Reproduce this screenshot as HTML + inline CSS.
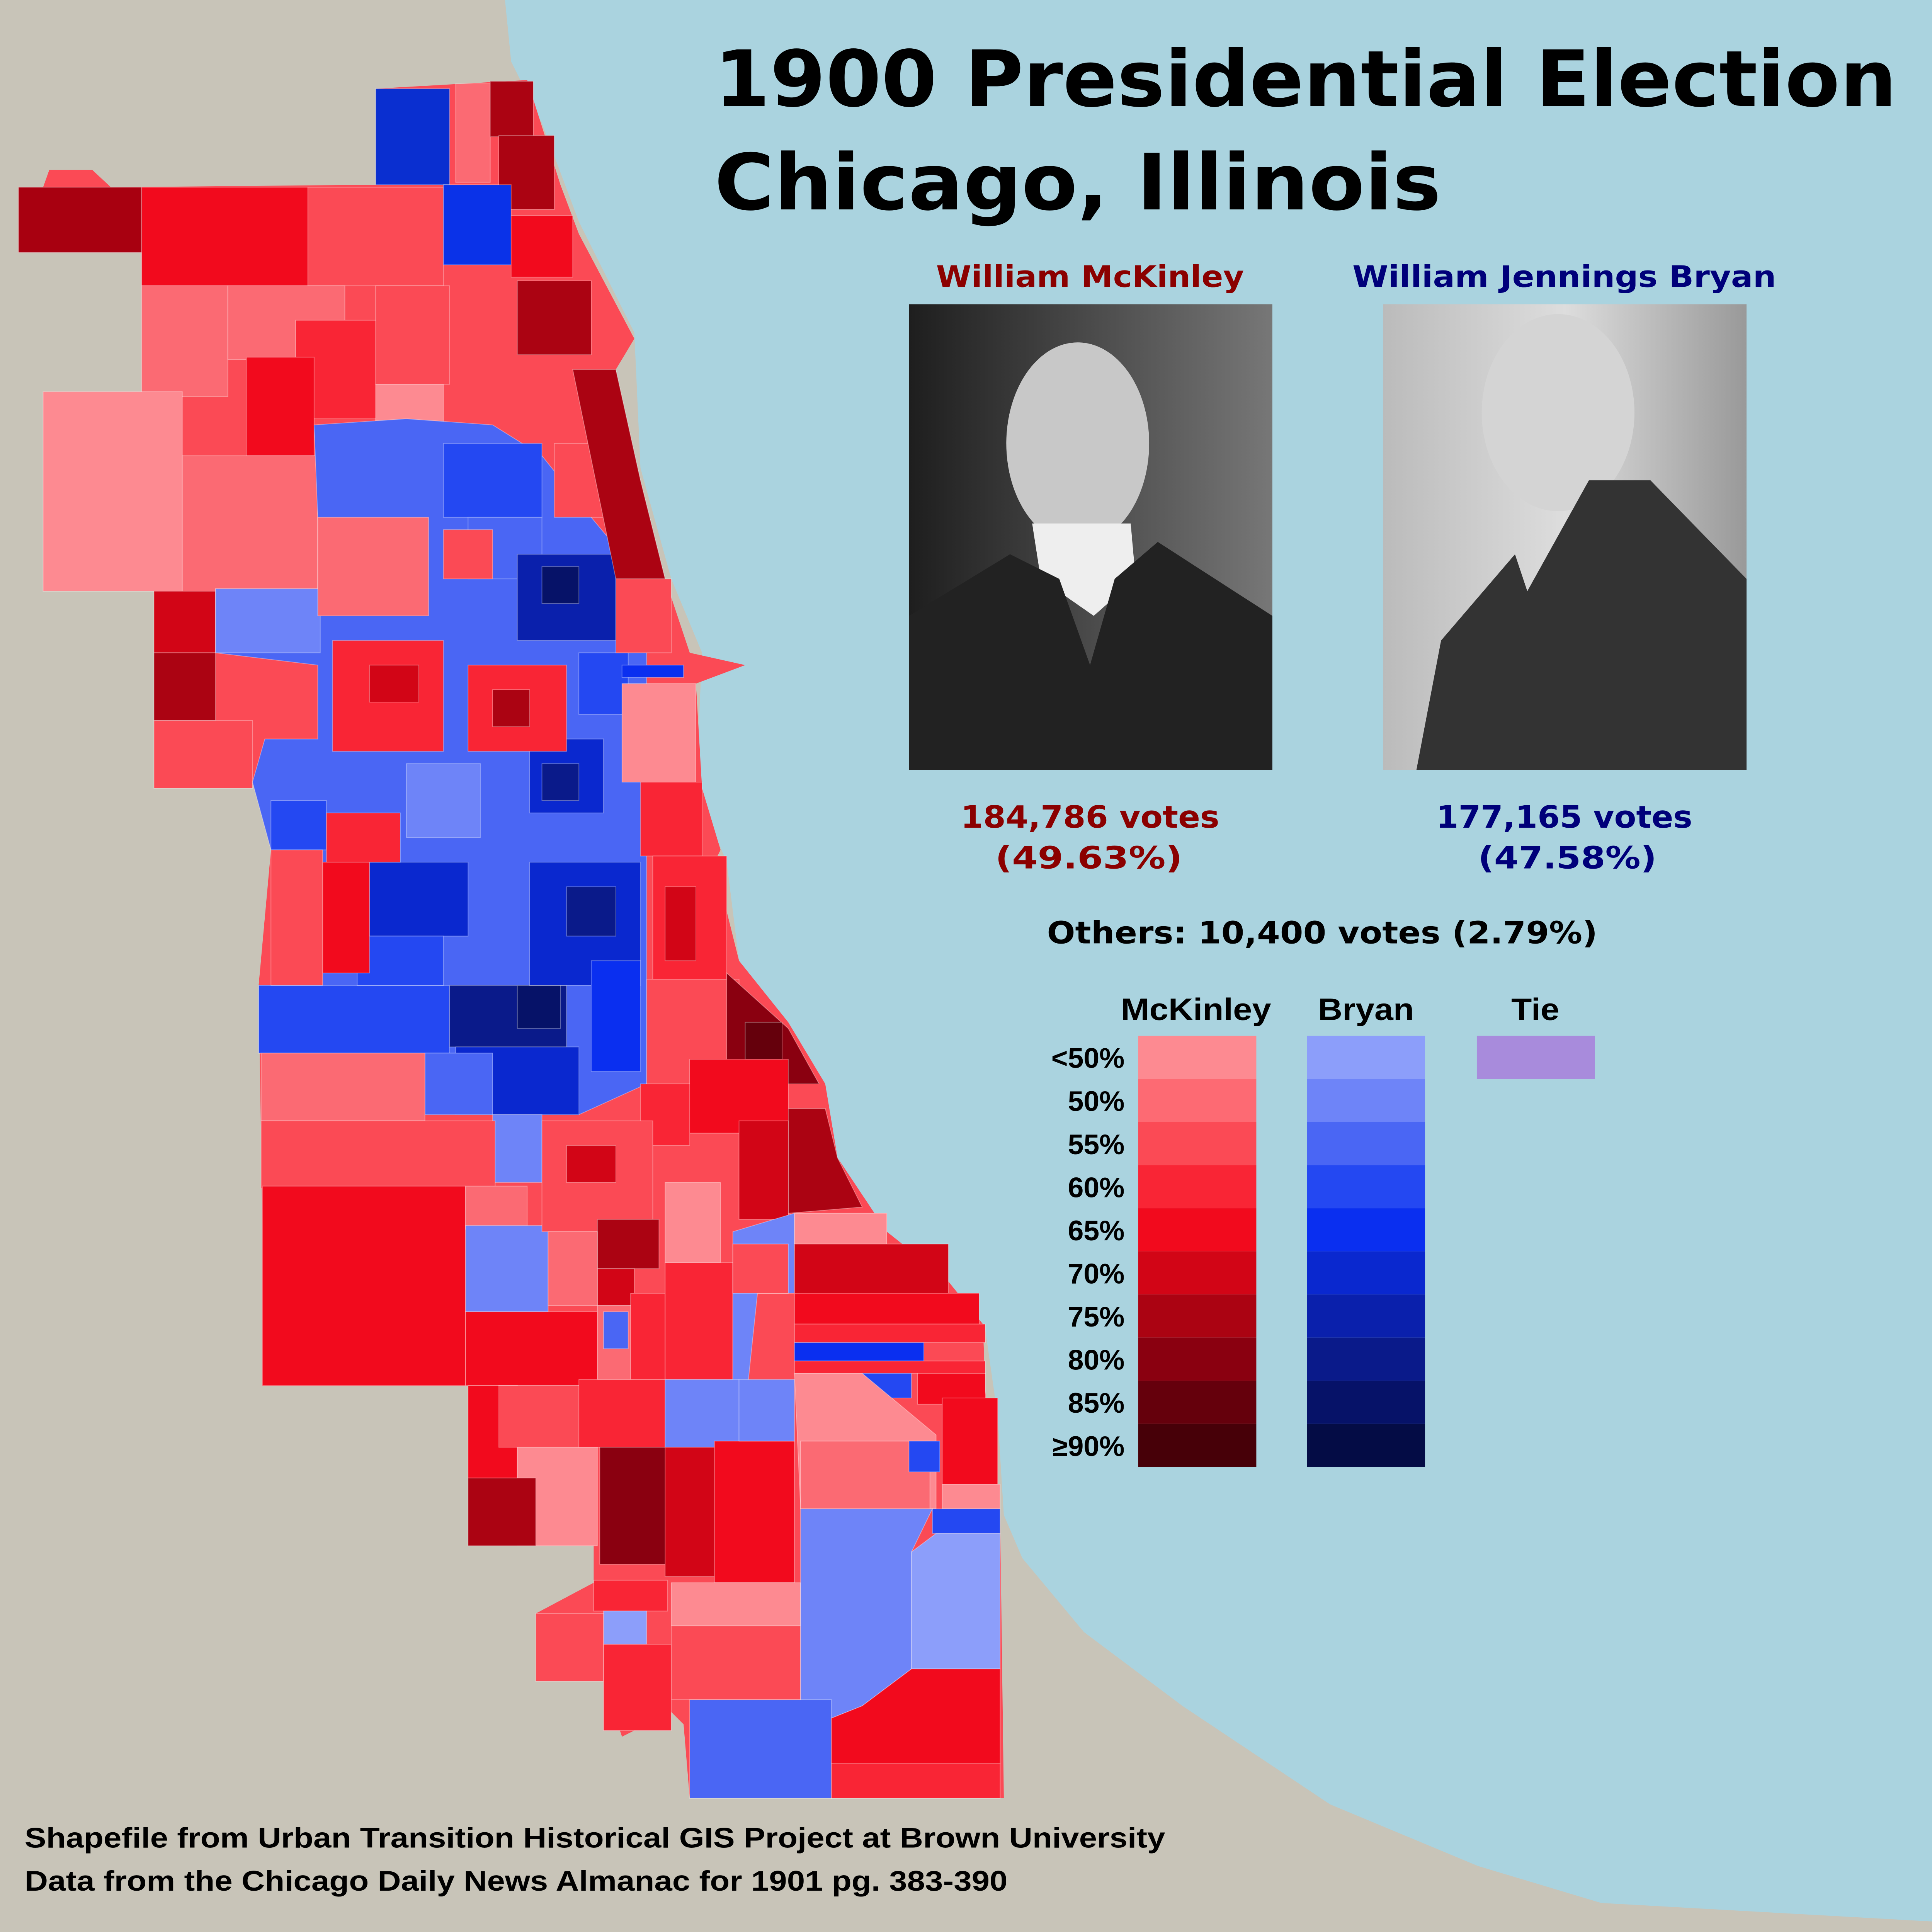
<!DOCTYPE html>
<html><head><meta charset="utf-8"><style>html,body{margin:0;padding:0;background:#c8c4b8;overflow:hidden}svg{display:block}</style></head>
<body>
<svg xmlns="http://www.w3.org/2000/svg" width="5265" height="5250" viewBox="0 0 1651 1647" preserveAspectRatio="xMinYMin meet">
<defs>
<linearGradient id="g1" x1="0" y1="0" x2="1" y2="0"><stop offset="0" stop-color="#1e1e1e"/><stop offset="1" stop-color="#777"/></linearGradient>
<linearGradient id="g2" x1="0" y1="0" x2="1" y2="0"><stop offset="0" stop-color="#bbb"/><stop offset="0.5" stop-color="#ddd"/><stop offset="1" stop-color="#999"/></linearGradient>
</defs>
<rect width="1651" height="1647" fill="#c8c4b8"/>
<path d="M410,0 L1651,0 L1651,1647 L1568,1560 L1300,1545 L1200,1515 L1080,1465 L960,1385 L880,1325 L830,1265 L815,1230 L810,1150 L800,1080 L770,1040 L720,1000 L680,940 L640,840 L600,780 L590,700 L565,640 L570,530 L545,470 L520,380 L515,270 L470,180 L440,100 L415,50 Z" fill="#aad3df"/>
<path d="M1568,1560 L1651,1560 L1651,1647 L0,1647 L0,1564 L1568,1564 Z" fill="#c8c4b8"/>
<path d="M305,72 L428,65 L455,150 L470,190 L515,275 L500,300 L520,390 L540,470 L560,530 L605,540 L565,555 L570,640 L585,690 L580,700 L600,780 L640,830 L670,880 L680,940 L720,1000 L768,1038 L798,1075 L800,1130 L812,1230 L815,1460 L560,1460 L555,1400 L545,1390 L505,1410 L490,1365 L435,1365 L435,1310 L482,1285 L482,1255 L380,1255 L380,1125 L215,1125 L210,800 L220,690 L205,635 L205,612 L125,640 L125,480 L35,480 L35,318 L115,318 L115,205 L15,205 L15,152 L35,152 L40,138 L75,138 L90,152 L305,150 Z" fill="#fb4a55"/>
<g stroke="#ffffff" stroke-opacity="0.35" stroke-width="0.6">
<rect x="15" y="152" width="100" height="53" fill="#a80010"/>
<rect x="115" y="152" width="135" height="80" fill="#f20a1d"/>
<rect x="250" y="152" width="110" height="80" fill="#fb4a55"/>
<rect x="305" y="72" width="60" height="78" fill="#0a2fd0"/>
<rect x="370" y="68" width="28" height="80" fill="#fb6a73"/>
<rect x="398" y="66" width="35" height="45" fill="#ab0312"/>
<rect x="405" y="110" width="45" height="60" fill="#ab0312"/>
<rect x="360" y="150" width="55" height="65" fill="#0a32e8"/>
<rect x="415" y="175" width="50" height="50" fill="#f20a1d"/>
<rect x="420" y="228" width="60" height="60" fill="#ab0312"/>
<rect x="115" y="232" width="70" height="90" fill="#fb6a73"/>
<rect x="185" y="232" width="95" height="60" fill="#fb6a73"/>
<rect x="240" y="260" width="70" height="80" fill="#f92535"/>
<rect x="200" y="290" width="55" height="80" fill="#f20a1d"/>
<rect x="305" y="232" width="60" height="80" fill="#fb4a55"/>
<rect x="35" y="318" width="113" height="162" fill="#fd8a91"/>
<rect x="148" y="370" width="110" height="110" fill="#fb6a73"/>
<rect x="305" y="312" width="55" height="40" fill="#fd8a91"/>
<rect x="125" y="480" width="50" height="50" fill="#d20516"/>
<rect x="125" y="530" width="50" height="55" fill="#ab0312"/>
<rect x="125" y="585" width="80" height="55" fill="#fb4a55"/>
<path d="M255,345 L330,340 L400,345 L440,370 L480,420 L505,450 L525,510 L525,880 L470,905 L400,905 L360,875 L345,855 L210,855 L210,800 L260,800 L262,700 L220,690 L205,635 L215,600 L258,600 L258,540 L175,530 L175,478 L258,478 L258,420 Z" fill="#4a66f4"/>
<rect x="175" y="478" width="85" height="52" fill="#6e84f8"/>
<rect x="210" y="800" width="155" height="55" fill="#2448f2"/>
<rect x="365" y="800" width="95" height="50" fill="#0a1a8a"/>
<rect x="420" y="800" width="35" height="35" fill="#061268"/>
<rect x="370" y="850" width="100" height="55" fill="#0a28cf"/>
<rect x="345" y="855" width="55" height="50" fill="#4a66f4"/>
<rect x="400" y="905" width="40" height="55" fill="#6e84f8"/>
<rect x="360" y="360" width="80" height="60" fill="#2448f2"/>
<rect x="380" y="420" width="60" height="50" fill="#4a66f4"/>
<rect x="420" y="450" width="80" height="70" fill="#0a20ac"/>
<rect x="440" y="460" width="30" height="30" fill="#061268"/>
<rect x="470" y="530" width="40" height="50" fill="#2448f2"/>
<rect x="430" y="600" width="60" height="60" fill="#0a28cf"/>
<rect x="440" y="620" width="30" height="30" fill="#0a1a8a"/>
<rect x="430" y="700" width="90" height="100" fill="#0a28cf"/>
<rect x="460" y="720" width="40" height="40" fill="#0a1a8a"/>
<rect x="480" y="780" width="40" height="90" fill="#0a2ff0"/>
<rect x="300" y="700" width="80" height="60" fill="#0a28cf"/>
<rect x="290" y="760" width="70" height="40" fill="#2448f2"/>
<rect x="330" y="620" width="60" height="60" fill="#6e84f8"/>
<rect x="220" y="650" width="45" height="40" fill="#2448f2"/>
<rect x="505" y="540" width="50" height="10" fill="#0a2ff0"/>
<rect x="258" y="420" width="90" height="80" fill="#fb6a73"/>
<rect x="270" y="520" width="90" height="90" fill="#f92535"/>
<rect x="300" y="540" width="40" height="30" fill="#d20516"/>
<rect x="380" y="540" width="80" height="70" fill="#f92535"/>
<rect x="400" y="560" width="30" height="30" fill="#ab0312"/>
<rect x="265" y="660" width="60" height="40" fill="#f92535"/>
<rect x="262" y="700" width="38" height="90" fill="#f20a1d"/>
<rect x="220" y="690" width="42" height="110" fill="#fb4a55"/>
<rect x="360" y="430" width="40" height="40" fill="#fb4a55"/>
<rect x="450" y="360" width="50" height="60" fill="#fb4a55"/>
<path d="M465,300 L500,300 L520,390 L540,470 L500,470 Z" fill="#ab0312"/>
<rect x="500" y="470" width="45" height="60" fill="#fb4a55"/>
<rect x="505" y="555" width="60" height="80" fill="#fd8a91"/>
<rect x="520" y="635" width="50" height="60" fill="#f92535"/>
<rect x="530" y="695" width="60" height="100" fill="#f92535"/>
<rect x="540" y="720" width="25" height="60" fill="#d20516"/>
<rect x="525" y="795" width="75" height="90" fill="#fb4a55"/>
<path d="M590,790 L640,835 L665,880 L590,880 Z" fill="#8a0010"/>
<rect x="605" y="830" width="30" height="30" fill="#65000c"/>
<rect x="560" y="860" width="80" height="60" fill="#f20a1d"/>
<path d="M640,900 L670,900 L680,940 L700,980 L640,985 Z" fill="#ab0312"/>
<rect x="600" y="910" width="40" height="80" fill="#d20516"/>
<rect x="520" y="880" width="40" height="50" fill="#f92535"/>
<rect x="212" y="855" width="133" height="55" fill="#fb6a73"/>
<rect x="212" y="910" width="190" height="55" fill="#fb4a55"/>
<rect x="213" y="963" width="165" height="162" fill="#f20a1d"/>
<rect x="378" y="963" width="50" height="35" fill="#fb6a73"/>
<rect x="378" y="995" width="67" height="70" fill="#6e84f8"/>
<rect x="378" y="1065" width="107" height="60" fill="#f20a1d"/>
<rect x="440" y="910" width="90" height="90" fill="#fb4a55"/>
<rect x="460" y="930" width="40" height="30" fill="#d20516"/>
<rect x="485" y="990" width="50" height="40" fill="#ab0312"/>
<rect x="485" y="1030" width="30" height="30" fill="#d20516"/>
<rect x="445" y="1000" width="40" height="60" fill="#fb6a73"/>
<rect x="485" y="1060" width="30" height="60" fill="#fb6a73"/>
<rect x="490" y="1065" width="20" height="30" fill="#4a66f4"/>
<rect x="512" y="1050" width="28" height="70" fill="#f92535"/>
<rect x="540" y="1025" width="55" height="95" fill="#f92535"/>
<rect x="540" y="960" width="45" height="65" fill="#fd8a91"/>
<path d="M595,1000 L645,985 L645,1050 L615,1050 L605,1145 L595,1120 Z" fill="#6e84f8"/>
<rect x="595" y="1010" width="45" height="40" fill="#fb4a55"/>
<rect x="380" y="1125" width="40" height="75" fill="#f20a1d"/>
<rect x="405" y="1125" width="80" height="50" fill="#fb4a55"/>
<rect x="420" y="1175" width="65" height="80" fill="#fd8a91"/>
<rect x="380" y="1200" width="55" height="55" fill="#ab0312"/>
<rect x="470" y="1120" width="70" height="55" fill="#f92535"/>
<rect x="487" y="1175" width="55" height="95" fill="#8a0010"/>
<rect x="540" y="1120" width="60" height="55" fill="#6e84f8"/>
<rect x="540" y="1175" width="55" height="105" fill="#d20516"/>
<rect x="580" y="1170" width="65" height="115" fill="#f20a1d"/>
<rect x="600" y="1120" width="45" height="50" fill="#6e84f8"/>
<rect x="482" y="1283" width="60" height="25" fill="#f92535"/>
<rect x="490" y="1308" width="35" height="27" fill="#8c9efa"/>
<rect x="435" y="1310" width="55" height="55" fill="#fb4a55"/>
<rect x="490" y="1335" width="55" height="70" fill="#f92535"/>
<rect x="545" y="1285" width="105" height="35" fill="#fd8a91"/>
<rect x="545" y="1320" width="105" height="60" fill="#fb4a55"/>
<rect x="645" y="985" width="75" height="30" fill="#fd8a91"/>
<rect x="645" y="1010" width="125" height="40" fill="#d20516"/>
<rect x="645" y="1050" width="150" height="25" fill="#f20a1d"/>
<rect x="645" y="1075" width="155" height="15" fill="#f92535"/>
<rect x="645" y="1090" width="105" height="15" fill="#0a2ff0"/>
<rect x="645" y="1105" width="155" height="10" fill="#f92535"/>
<rect x="700" y="1115" width="40" height="20" fill="#2448f2"/>
<rect x="745" y="1115" width="55" height="25" fill="#f20a1d"/>
<path d="M645,1115 L700,1115 L760,1165 L760,1225 L650,1225 Z" fill="#fd8a91"/>
<rect x="650" y="1170" width="105" height="55" fill="#fb6a73"/>
<rect x="738" y="1170" width="25" height="25" fill="#2448f2"/>
<rect x="765" y="1135" width="45" height="70" fill="#f20a1d"/>
<rect x="765" y="1205" width="47" height="20" fill="#fd8a91"/>
<rect x="757" y="1225" width="55" height="20" fill="#2448f2"/>
<path d="M650,1225 L757,1225 L740,1260 L740,1355 L700,1385 L675,1395 L650,1380 Z" fill="#6e84f8"/>
<path d="M740,1260 L760,1245 L812,1245 L812,1355 L740,1355 Z" fill="#8c9efa"/>
<rect x="560" y="1380" width="115" height="80" fill="#4a66f4"/>
<path d="M675,1395 L700,1385 L740,1355 L812,1355 L812,1432 L675,1432 Z" fill="#f20a1d"/>
<rect x="675" y="1432" width="137" height="28" fill="#f92535"/>
</g>
<g font-family="'DejaVu Sans',Verdana,sans-serif" font-weight="bold" lengthAdjust="spacingAndGlyphs">
<text x="580" y="86" font-size="63" fill="#000" textLength="960" lengthAdjust="spacingAndGlyphs">1900 Presidential Election</text>
<text x="580" y="170" font-size="63" fill="#000" textLength="590" lengthAdjust="spacingAndGlyphs">Chicago, Illinois</text>
<text x="760" y="233" font-size="24" fill="#8b0000" textLength="250" lengthAdjust="spacingAndGlyphs">William McKinley</text>
<text x="1098" y="233" font-size="24" fill="#00007a" textLength="344" lengthAdjust="spacingAndGlyphs">William Jennings Bryan</text>
<text x="780" y="672" font-size="25" fill="#8b0000" textLength="210" lengthAdjust="spacingAndGlyphs">184,786 votes</text>
<text x="808" y="705" font-size="25" fill="#8b0000" textLength="152" lengthAdjust="spacingAndGlyphs">(49.63%)</text>
<text x="1166" y="672" font-size="25" fill="#00007a" textLength="208" lengthAdjust="spacingAndGlyphs">177,165 votes</text>
<text x="1200" y="705" font-size="25" fill="#00007a" textLength="145" lengthAdjust="spacingAndGlyphs">(47.58%)</text>
<text x="850" y="766" font-size="25" fill="#000" textLength="447" lengthAdjust="spacingAndGlyphs">Others: 10,400 votes (2.79%)</text>
</g>
<rect x="738" y="247" width="295" height="378" fill="url(#g1)"/>
<ellipse cx="875" cy="360" rx="58" ry="82" fill="#c8c8c8"/>
<path d="M838,425 L918,425 L922,470 L888,500 L845,470 Z" fill="#eee"/>
<path d="M738,500 L820,450 L860,470 L885,540 L905,470 L940,440 L1033,500 L1033,625 L738,625 Z" fill="#222"/>
<rect x="1123" y="247" width="295" height="378" fill="url(#g2)"/>
<ellipse cx="1265" cy="335" rx="62" ry="80" fill="#d4d4d4"/>
<path d="M1150,625 L1170,520 L1230,450 L1240,480 L1290,390 L1340,390 L1418,470 L1418,625 Z" fill="#333"/>
<g font-family="'Liberation Sans',Arial,sans-serif" font-weight="bold" font-size="25" fill="#000">
<text x="910" y="828" textLength="122" lengthAdjust="spacingAndGlyphs">McKinley</text>
<text x="1070" y="828" textLength="78" lengthAdjust="spacingAndGlyphs">Bryan</text>
<text x="1227" y="828" textLength="39" lengthAdjust="spacingAndGlyphs">Tie</text>
<g text-anchor="end" font-size="23">
<text x="913" y="867">&lt;50%</text><text x="913" y="902">50%</text><text x="913" y="937">55%</text><text x="913" y="972">60%</text><text x="913" y="1007">65%</text><text x="913" y="1042">70%</text><text x="913" y="1077">75%</text><text x="913" y="1112">80%</text><text x="913" y="1147">85%</text><text x="913" y="1182">≥90%</text>
</g>
</g>
<g>
<rect x="924" y="841" width="96" height="35" fill="#fd8a91"/><rect x="924" y="876" width="96" height="35" fill="#fd6a73"/><rect x="924" y="911" width="96" height="35" fill="#fb4a55"/><rect x="924" y="946" width="96" height="35" fill="#f92535"/><rect x="924" y="981" width="96" height="35" fill="#f20a1d"/><rect x="924" y="1016" width="96" height="35" fill="#d20516"/><rect x="924" y="1051" width="96" height="35" fill="#ab0312"/><rect x="924" y="1086" width="96" height="35" fill="#8a0010"/><rect x="924" y="1121" width="96" height="35" fill="#65000c"/><rect x="924" y="1156" width="96" height="35" fill="#470008"/>
<rect x="1061" y="841" width="96" height="35" fill="#8c9efa"/><rect x="1061" y="876" width="96" height="35" fill="#6e84f8"/><rect x="1061" y="911" width="96" height="35" fill="#4a66f4"/><rect x="1061" y="946" width="96" height="35" fill="#2448f2"/><rect x="1061" y="981" width="96" height="35" fill="#0a2ff0"/><rect x="1061" y="1016" width="96" height="35" fill="#0a28cf"/><rect x="1061" y="1051" width="96" height="35" fill="#0a20ac"/><rect x="1061" y="1086" width="96" height="35" fill="#0a1a8a"/><rect x="1061" y="1121" width="96" height="35" fill="#061268"/><rect x="1061" y="1156" width="96" height="35" fill="#040c45"/>
<rect x="1199" y="841" width="96" height="35" fill="#a88bdc"/>
</g>
<g font-family="'Liberation Sans',Arial,sans-serif" font-weight="bold" font-size="23" fill="#000">
<text x="20" y="1500" textLength="926" lengthAdjust="spacingAndGlyphs">Shapefile from Urban Transition Historical GIS Project at Brown University</text>
<text x="20" y="1535" textLength="798" lengthAdjust="spacingAndGlyphs">Data from the Chicago Daily News Almanac for 1901 pg. 383-390</text>
</g>
</svg>
</body></html>
